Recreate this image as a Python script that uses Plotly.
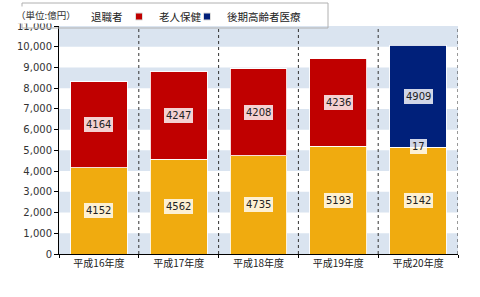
import plotly.graph_objects as go

categories = ["平成16年度", "平成17年度", "平成18年度", "平成19年度", "平成20年度"]
taishoku = [4152, 4562, 4735, 5193, 5142]
rojin = [4164, 4247, 4208, 4236, 17]
kouki = [0, 0, 0, 0, 4909]
series_names = ["退職者", "老人保健", "後期高齢者医療"]
colors = ["#f0ab0f", "#c00000", "#00207a"]
yticks = list(range(0, 11001, 1000))

FONT_NUM = "DejaVu Sans"
FONT_JP = "Noto Sans CJK JP"

W, H = 480, 297
ML, MR, MT, MB = 59, 22, 26, 43
PW, PH = W - ML - MR, H - MT - MB


def px_x(p):
    return (p - ML) / PW


def px_y(p):
    return 1 + (MT - p) / PH


fig = go.Figure()
all_series = [taishoku, rojin, kouki]
for name, vals, col in zip(series_names, all_series, colors):
    fig.add_trace(go.Bar(
        x=categories, y=vals, name=name, showlegend=False,
        marker=dict(color=col, line=dict(color="rgba(255,255,255,0.85)", width=1)),
        width=0.71, hoverinfo="skip",
    ))
# legend entries with small square symbols
for name, col in zip(series_names, colors):
    fig.add_trace(go.Scatter(
        x=[None], y=[None], mode="markers", name=name,
        marker=dict(symbol="square", size=7, color=col,
                    line=dict(color="#dddddd", width=1)),
    ))
# blank spacer entry so the last legend label has room
fig.add_trace(go.Scatter(
    x=[None], y=[None], mode="markers", name=" ",
    marker=dict(symbol="square", size=7, color="rgba(0,0,0,0)"),
    hoverinfo="skip",
))

# value labels
annotations = []
for i, cat in enumerate(categories):
    base = 0
    for vals in all_series:
        v = vals[i]
        if v > 0:
            yc = base + v / 2 if v > 300 else base + v + 20
            annotations.append(dict(
                x=cat, y=yc, xref="x", yref="y", text=str(v), showarrow=False,
                font=dict(family=FONT_NUM, size=10, color="#222"),
                bgcolor="rgba(255,255,255,0.82)", borderpad=2,
                bordercolor="rgba(255,255,255,0.9)", borderwidth=0,
            ))
        base += v

annotations.append(dict(
    x=px_x(14), y=px_y(15), xref="paper", yref="paper", xanchor="left",
    yanchor="middle", text="（単位:億円）", showarrow=False,
    font=dict(family=FONT_JP, size=9.5, color="#333"), bgcolor="white",
))

shapes = []
# alternating bands
for k in range(0, len(yticks) - 1, 2):
    shapes.append(dict(type="rect", xref="paper", yref="y", x0=0, x1=1,
                       y0=yticks[k], y1=yticks[k + 1], fillcolor="#dae4f0",
                       line=dict(width=0), layer="below"))
# dotted category separators
for i in range(1, len(categories) + 1):
    shapes.append(dict(type="line", xref="x", yref="paper", x0=i - 0.5, x1=i - 0.5,
                       y0=0, y1=1, line=dict(color="#333", width=1, dash="dot"),
                       layer="below"))
# legend frame
shapes.append(dict(type="rect", xref="paper", yref="paper",
                   x0=px_x(22), x1=px_x(328), y0=px_y(28), y1=px_y(3),
                   fillcolor="rgba(255,255,255,0)",
                   line=dict(color="#b0b0b0", width=1), layer="above"))

fig.update_layout(
    width=W, height=H,
    margin=dict(l=ML, r=MR, t=MT, b=MB, autoexpand=False),
    barmode="stack", bargap=0.29,
    paper_bgcolor="white", plot_bgcolor="white",
    showlegend=True,
    legend=dict(orientation="h", xref="container", x=51 / W, xanchor="left",
                yref="container", y=1 - 2 / H, yanchor="top",
                font=dict(family=FONT_JP, size=10.5, color="#222"),
                bgcolor="rgba(0,0,0,0)", borderwidth=0,
                itemwidth=30, entrywidth=23, entrywidthmode="pixels",
                traceorder="normal", tracegroupgap=0),
    annotations=annotations,
    shapes=shapes,
    xaxis=dict(type="category", showline=True, linecolor="#000", linewidth=1,
               ticks="outside", ticklen=3, tickcolor="#000", tickson="boundaries",
               tickfont=dict(family=FONT_JP, size=10, color="#222"),
               showgrid=False, range=[-0.5, len(categories) - 0.5]),
    yaxis=dict(range=[0, 11000], tickvals=yticks, tickformat=",d",
               showline=True, linecolor="#000", linewidth=1, ticks="outside",
               ticklen=4, tickcolor="#000", showgrid=False, zeroline=False,
               tickfont=dict(family=FONT_NUM, size=10, color="#333")),
)

fig.write_html("out.html")
